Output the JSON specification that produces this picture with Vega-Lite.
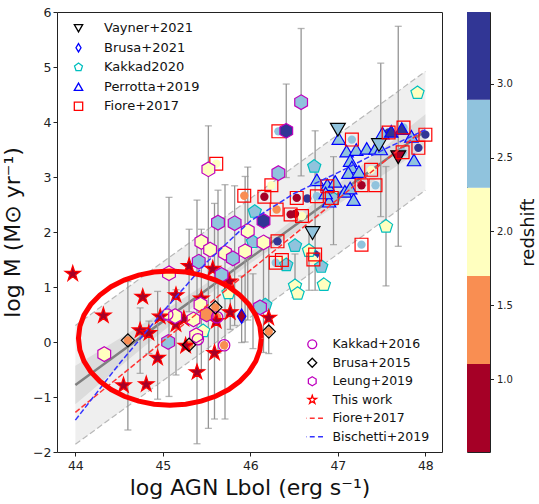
{
  "$schema": "https://vega.github.io/schema/vega-lite/v6.json",
  "padding": {"left": 0, "top": 5, "right": 2, "bottom": 2},
  "background": "white",
  "config": {
    "font": "DejaVu Sans",
    "view": {"stroke": "#222222", "strokeWidth": 1},
    "axis": {"grid": false, "domain": false, "tickColor": "#222222", "tickSize": 4, "labelColor": "#222222", "titleColor": "#111111", "titleFontWeight": "normal", "labelFont": "DejaVu Sans", "titleFont": "DejaVu Sans"},
    "legend": {"labelFont": "DejaVu Sans", "labelColor": "#111111"}
  },
  "datasets": {
    "band": [
      {"L": 44.0, "fit": -0.78, "il": -1.13, "ih": -0.43, "ol": -1.86, "oh": 0.30},
      {"L": 44.5, "fit": -0.20, "il": -0.46, "ih": 0.06, "ol": -1.28, "oh": 0.88},
      {"L": 45.0, "fit": 0.375, "il": 0.195, "ih": 0.555, "ol": -0.705, "oh": 1.455},
      {"L": 45.5, "fit": 0.95, "il": 0.83, "ih": 1.07, "ol": -0.13, "oh": 2.03},
      {"L": 46.0, "fit": 1.53, "il": 1.43, "ih": 1.63, "ol": 0.45, "oh": 2.61},
      {"L": 46.5, "fit": 2.11, "il": 1.98, "ih": 2.24, "ol": 1.03, "oh": 3.19},
      {"L": 47.0, "fit": 2.685, "il": 2.50, "ih": 2.87, "ol": 1.60, "oh": 3.77},
      {"L": 47.5, "fit": 3.26, "il": 3.02, "ih": 3.50, "ol": 2.18, "oh": 4.34},
      {"L": 48.0, "fit": 3.84, "il": 3.54, "ih": 4.14, "ol": 2.76, "oh": 4.92}
    ],
    "rel": [
      {"rel": "Fiore+2017", "L": 44.0, "M": -1.28},
      {"rel": "Fiore+2017", "L": 48.0, "M": 3.89},
      {"rel": "Bischetti+2019", "L": 44.0, "M": -1.42},
      {"rel": "Bischetti+2019", "L": 44.5, "M": -0.40},
      {"rel": "Bischetti+2019", "L": 45.0, "M": 0.55},
      {"rel": "Bischetti+2019", "L": 45.5, "M": 1.45},
      {"rel": "Bischetti+2019", "L": 46.0, "M": 2.20},
      {"rel": "Bischetti+2019", "L": 46.5, "M": 2.70},
      {"rel": "Bischetti+2019", "L": 47.0, "M": 3.08},
      {"rel": "Bischetti+2019", "L": 47.5, "M": 3.48},
      {"rel": "Bischetti+2019", "L": 48.0, "M": 3.86}
    ],
    "ring": [
      {"k": 0, "L": 46.125, "M": 0.07}, {"k": 1, "L": 46.109, "M": 0.282}, {"k": 2, "L": 46.062, "M": 0.487},
      {"k": 3, "L": 45.985, "M": 0.68}, {"k": 4, "L": 45.88, "M": 0.854}, {"k": 5, "L": 45.752, "M": 1.005},
      {"k": 6, "L": 45.603, "M": 1.127}, {"k": 7, "L": 45.437, "M": 1.216}, {"k": 8, "L": 45.261, "M": 1.271},
      {"k": 9, "L": 45.08, "M": 1.29}, {"k": 10, "L": 44.899, "M": 1.271}, {"k": 11, "L": 44.723, "M": 1.216},
      {"k": 12, "L": 44.558, "M": 1.127}, {"k": 13, "L": 44.408, "M": 1.005}, {"k": 14, "L": 44.28, "M": 0.854},
      {"k": 15, "L": 44.175, "M": 0.68}, {"k": 16, "L": 44.098, "M": 0.487}, {"k": 17, "L": 44.051, "M": 0.282},
      {"k": 18, "L": 44.035, "M": 0.07}, {"k": 19, "L": 44.051, "M": -0.142}, {"k": 20, "L": 44.098, "M": -0.347},
      {"k": 21, "L": 44.175, "M": -0.54}, {"k": 22, "L": 44.28, "M": -0.714}, {"k": 23, "L": 44.408, "M": -0.865},
      {"k": 24, "L": 44.558, "M": -0.987}, {"k": 25, "L": 44.723, "M": -1.076}, {"k": 26, "L": 44.899, "M": -1.131},
      {"k": 27, "L": 45.08, "M": -1.15}, {"k": 28, "L": 45.261, "M": -1.131}, {"k": 29, "L": 45.437, "M": -1.076},
      {"k": 30, "L": 45.603, "M": -0.987}, {"k": 31, "L": 45.752, "M": -0.865}, {"k": 32, "L": 45.88, "M": -0.714},
      {"k": 33, "L": 45.985, "M": -0.54}, {"k": 34, "L": 46.062, "M": -0.347}, {"k": 35, "L": 46.109, "M": -0.142},
      {"k": 36, "L": 46.125, "M": 0.07}
    ],
    "cbar": [
      {"z0": 0.508, "z1": 1.104, "zc": 0.8},
      {"z0": 1.104, "z1": 1.699, "zc": 1.4},
      {"z0": 1.699, "z1": 2.296, "zc": 2.0},
      {"z0": 2.296, "z1": 2.892, "zc": 2.6},
      {"z0": 2.892, "z1": 3.485, "zc": 3.2}
    ],
    "pts": [
      {"s": "This work", "L": 43.97, "M": 1.24, "z": 0.8},
      {"s": "This work", "L": 44.32, "M": 0.48, "z": 0.8},
      {"s": "This work", "L": 44.77, "M": 0.82, "z": 0.8},
      {"s": "This work", "L": 44.74, "M": 0.21, "z": 0.8, "lo": -0.57, "hi": 0.62},
      {"s": "This work", "L": 44.84, "M": 0.16, "z": 0.8, "lo": -0.21, "hi": 0.38},
      {"s": "This work", "L": 44.55, "M": -0.79, "z": 0.8},
      {"s": "This work", "L": 44.81, "M": -0.77, "z": 0.8},
      {"s": "This work", "L": 44.94, "M": -0.29, "z": 0.8, "lo": -1.04, "hi": 0.92},
      {"s": "This work", "L": 44.97, "M": 0.46, "z": 0.8},
      {"s": "This work", "L": 45.15, "M": 0.85, "z": 0.8},
      {"s": "This work", "L": 45.15, "M": 0.32, "z": 0.8, "lo": -0.6, "hi": 0.95},
      {"s": "This work", "L": 45.24, "M": 0.42, "z": 0.8},
      {"s": "This work", "L": 45.30, "M": 1.38, "z": 0.8, "lo": 0.55, "hi": 2.05},
      {"s": "This work", "L": 45.26, "M": -0.07, "z": 0.8},
      {"s": "This work", "L": 45.39, "M": -0.55, "z": 0.8, "lo": -1.85, "hi": 2.58},
      {"s": "This work", "L": 45.44, "M": 0.79, "z": 0.8},
      {"s": "This work", "L": 45.57, "M": 1.33, "z": 0.8},
      {"s": "This work", "L": 45.59, "M": -0.20, "z": 0.8, "lo": -1.40, "hi": 2.52},
      {"s": "This work", "L": 45.61, "M": 0.38, "z": 0.8},
      {"s": "This work", "L": 45.77, "M": 0.54, "z": 0.8, "lo": 0.23, "hi": 1.1},
      {"s": "This work", "L": 45.76, "M": 1.10, "z": 0.8},
      {"s": "This work", "L": 46.21, "M": 0.44, "z": 0.8, "lo": -0.21, "hi": 1.9},
      {"s": "Leung+2019", "L": 45.52, "M": 3.14, "z": 2.0, "lo": -1.57, "hi": 3.93},
      {"s": "Leung+2019", "L": 46.58, "M": 4.36, "z": 2.6, "lo": 3.02, "hi": 5.70},
      {"s": "Leung+2019", "L": 46.41, "M": 3.84, "z": 3.2, "lo": 2.99, "hi": 4.69},
      {"s": "Leung+2019", "L": 46.32, "M": 3.07, "z": 2.6},
      {"s": "Leung+2019", "L": 45.63, "M": 2.17, "z": 2.6, "lo": -0.2, "hi": 2.76},
      {"s": "Leung+2019", "L": 45.82, "M": 2.16, "z": 2.6, "lo": 0.3, "hi": 2.84},
      {"s": "Leung+2019", "L": 45.97, "M": 2.02, "z": 2.0, "lo": 0.4, "hi": 3.18},
      {"s": "Leung+2019", "L": 46.15, "M": 2.20, "z": 3.2},
      {"s": "Leung+2019", "L": 45.44, "M": 1.82, "z": 2.0, "lo": -0.5, "hi": 2.05},
      {"s": "Leung+2019", "L": 45.54, "M": 1.68, "z": 2.0},
      {"s": "Leung+2019", "L": 45.71, "M": 1.62, "z": 2.0, "lo": -1.40, "hi": 2.86},
      {"s": "Leung+2019", "L": 45.80, "M": 1.52, "z": 2.6},
      {"s": "Leung+2019", "L": 45.94, "M": 1.65, "z": 2.0, "lo": 0.0, "hi": 3.01},
      {"s": "Leung+2019", "L": 45.41, "M": 1.46, "z": 2.6},
      {"s": "Leung+2019", "L": 45.67, "M": 1.22, "z": 2.6},
      {"s": "Leung+2019", "L": 46.15, "M": 1.81, "z": 2.0, "lo": -0.19, "hi": 1.85},
      {"s": "Leung+2019", "L": 45.07, "M": 1.25, "z": 2.0, "lo": -0.99, "hi": 2.63},
      {"s": "Leung+2019", "L": 44.33, "M": -0.22, "z": 2.0},
      {"s": "Leung+2019", "L": 45.06, "M": 0.0, "z": 2.6},
      {"s": "Leung+2019", "L": 45.14, "M": 0.47, "z": 2.0},
      {"s": "Leung+2019", "L": 45.35, "M": 0.41, "z": 2.0},
      {"s": "Leung+2019", "L": 45.38, "M": 0.12, "z": 2.0},
      {"s": "Leung+2019", "L": 45.43, "M": 0.68, "z": 2.0},
      {"s": "Leung+2019", "L": 46.11, "M": 0.63, "z": 2.6},
      {"s": "Leung+2019", "L": 45.50, "M": 0.50, "z": 1.4},
      {"s": "Kakkad+2016", "L": 45.70, "M": -0.06, "z": 1.4},
      {"s": "Kakkad+2016", "L": 45.05, "M": 0.50, "z": 2.0},
      {"s": "Kakkad+2016", "L": 45.62, "M": 0.45, "z": 1.4},
      {"s": "Kakkad+2016", "L": 45.40, "M": 0.05, "z": 2.0},
      {"s": "Brusa+2015", "L": 44.60, "M": 0.03, "z": 1.4, "lo": -1.6, "hi": 1.1},
      {"s": "Brusa+2015", "L": 45.30, "M": -0.05, "z": 1.4},
      {"s": "Brusa+2015", "L": 45.60, "M": 0.63, "z": 1.4},
      {"s": "Brusa+2015", "L": 46.21, "M": 0.19, "z": 1.4},
      {"s": "Brusa+2021", "L": 45.90, "M": 0.47, "z": 0.8, "lo": -0.01, "hi": 1.2},
      {"s": "Kakkad2020", "L": 47.91, "M": 4.53, "z": 2.0},
      {"s": "Kakkad2020", "L": 46.73, "M": 3.19, "z": 2.6},
      {"s": "Kakkad2020", "L": 46.05, "M": 2.37, "z": 2.6},
      {"s": "Kakkad2020", "L": 46.03, "M": 1.82, "z": 2.6, "lo": -0.12, "hi": 1.24},
      {"s": "Kakkad2020", "L": 46.41, "M": 1.40, "z": 2.6},
      {"s": "Kakkad2020", "L": 45.75, "M": 0.89, "z": 2.0},
      {"s": "Kakkad2020", "L": 46.51, "M": 1.02, "z": 2.0, "lo": 0.81, "hi": 1.6},
      {"s": "Kakkad2020", "L": 46.54, "M": 0.88, "z": 2.0},
      {"s": "Kakkad2020", "L": 46.51, "M": 1.75, "z": 2.6},
      {"s": "Kakkad2020", "L": 46.67, "M": 1.66, "z": 2.0, "lo": 0.94, "hi": 2.1},
      {"s": "Kakkad2020", "L": 46.81, "M": 1.37, "z": 2.6},
      {"s": "Kakkad2020", "L": 46.84, "M": 1.04, "z": 2.0},
      {"s": "Kakkad2020", "L": 47.55, "M": 2.10, "z": 2.0, "lo": 1.02, "hi": 3.19},
      {"s": "Kakkad2020", "L": 46.95, "M": 2.60, "z": 2.6, "lo": 1.77, "hi": 3.37},
      {"s": "Kakkad2020", "L": 45.46, "M": 0.20, "z": 2.0},
      {"s": "Kakkad2020", "L": 46.17, "M": 0.67, "z": 2.6},
      {"s": "Perrotta+2019", "L": 47.01, "M": 3.70, "z": 2.6},
      {"s": "Perrotta+2019", "L": 47.10, "M": 3.47, "z": 2.6},
      {"s": "Perrotta+2019", "L": 47.21, "M": 3.50, "z": 2.6},
      {"s": "Perrotta+2019", "L": 47.33, "M": 3.52, "z": 2.6},
      {"s": "Perrotta+2019", "L": 47.43, "M": 3.52, "z": 2.6},
      {"s": "Perrotta+2019", "L": 47.49, "M": 3.51, "z": 2.6, "lo": 2.28, "hi": 5.07},
      {"s": "Perrotta+2019", "L": 47.14, "M": 3.30, "z": 2.6},
      {"s": "Perrotta+2019", "L": 47.16, "M": 3.18, "z": 2.6},
      {"s": "Perrotta+2019", "L": 47.12, "M": 3.08, "z": 2.6},
      {"s": "Perrotta+2019", "L": 47.24, "M": 3.10, "z": 2.6},
      {"s": "Perrotta+2019", "L": 47.51, "M": 3.80, "z": 2.6},
      {"s": "Perrotta+2019", "L": 47.61, "M": 3.83, "z": 3.2},
      {"s": "Perrotta+2019", "L": 47.73, "M": 3.88, "z": 3.2},
      {"s": "Perrotta+2019", "L": 47.84, "M": 3.74, "z": 2.6},
      {"s": "Perrotta+2019", "L": 47.87, "M": 3.31, "z": 2.6},
      {"s": "Perrotta+2019", "L": 46.76, "M": 2.95, "z": 2.6},
      {"s": "Perrotta+2019", "L": 46.88, "M": 2.86, "z": 2.6},
      {"s": "Perrotta+2019", "L": 46.97, "M": 2.92, "z": 2.6},
      {"s": "Perrotta+2019", "L": 46.90, "M": 2.56, "z": 2.6},
      {"s": "Perrotta+2019", "L": 46.86, "M": 2.71, "z": 2.6},
      {"s": "Perrotta+2019", "L": 47.08, "M": 2.74, "z": 2.6},
      {"s": "Perrotta+2019", "L": 47.18, "M": 2.59, "z": 2.6},
      {"s": "Perrotta+2019", "L": 47.14, "M": 2.80, "z": 2.6},
      {"s": "Vayner+2021", "L": 47.00, "M": 3.86, "z": 2.6},
      {"s": "Vayner+2021", "L": 47.47, "M": 3.58, "z": 2.6},
      {"s": "Vayner+2021", "L": 47.69, "M": 3.36, "z": 0.8, "lo": 1.74, "hi": 5.74},
      {"s": "Vayner+2021", "L": 46.71, "M": 1.98, "z": 2.6},
      {"s": "Fiore+2017", "L": 46.32, "M": 3.83, "z": 2.6},
      {"s": "Fiore+2017", "L": 47.16, "M": 3.68, "z": 2.6},
      {"s": "Fiore+2017", "L": 47.58, "M": 3.81, "z": 3.2},
      {"s": "Fiore+2017", "L": 47.75, "M": 3.90, "z": 2.6},
      {"s": "Fiore+2017", "L": 48.00, "M": 3.77, "z": 3.2},
      {"s": "Fiore+2017", "L": 47.92, "M": 3.53, "z": 3.2},
      {"s": "Fiore+2017", "L": 47.74, "M": 3.45, "z": 2.6},
      {"s": "Fiore+2017", "L": 47.27, "M": 2.85, "z": 0.8},
      {"s": "Fiore+2017", "L": 47.43, "M": 2.85, "z": 2.6},
      {"s": "Fiore+2017", "L": 47.38, "M": 3.13, "z": 2.0},
      {"s": "Fiore+2017", "L": 47.27, "M": 1.77, "z": 2.6},
      {"s": "Fiore+2017", "L": 45.93, "M": 2.66, "z": 1.4},
      {"s": "Fiore+2017", "L": 46.16, "M": 2.64, "z": 0.8},
      {"s": "Fiore+2017", "L": 46.24, "M": 2.85, "z": 2.0},
      {"s": "Fiore+2017", "L": 45.61, "M": 3.24, "z": 2.0},
      {"s": "Fiore+2017", "L": 46.31, "M": 1.83, "z": 3.2},
      {"s": "Fiore+2017", "L": 46.36, "M": 1.49, "z": 2.0},
      {"s": "Fiore+2017", "L": 46.29, "M": 1.44, "z": 2.6},
      {"s": "Fiore+2017", "L": 46.74, "M": 1.59, "z": 3.2, "lo": 0.94, "hi": 3.84},
      {"s": "Fiore+2017", "L": 46.72, "M": 1.50, "z": 2.0},
      {"s": "Fiore+2017", "L": 46.53, "M": 2.62, "z": 0.8},
      {"s": "Fiore+2017", "L": 46.46, "M": 2.32, "z": 0.8},
      {"s": "Fiore+2017", "L": 46.59, "M": 2.29, "z": 2.0},
      {"s": "Fiore+2017", "L": 46.88, "M": 2.83, "z": 0.8},
      {"s": "Fiore+2017", "L": 46.93, "M": 2.62, "z": 0.8},
      {"s": "Fiore+2017", "L": 46.76, "M": 2.65, "z": 2.6},
      {"s": "Fiore+2017", "L": 46.30, "M": 2.41, "z": 1.4},
      {"s": "none", "L": 46.65, "M": 2.61, "z": 3.2},
      {"s": "none", "L": 46.51, "M": 2.33, "z": 0.8}
    ]
  },
  "spacing": 23,
  "resolve": {
    "scale": {"shape": "independent", "stroke": "independent", "size": "independent", "fill": "independent"},
    "legend": {"shape": "independent", "stroke": "independent", "size": "independent", "fill": "independent"}
  },
  "hconcat": [
    {
      "width": 385,
      "height": 440,
      "encoding": {
        "x": {"field": "L", "type": "quantitative", "scale": {"domain": [43.79, 48.19], "nice": false, "zero": false},
          "axis": {"values": [44, 45, 46, 47, 48], "format": "d", "title": "log AGN Lbol (erg s⁻¹)", "labelFontSize": 12.5, "titleFontSize": 22, "titlePadding": 6, "labelPadding": 3}},
        "y": {"field": "M", "type": "quantitative", "scale": {"domain": [-2, 6], "nice": false, "zero": false},
          "axis": {"values": [-2, -1, 0, 1, 2, 3, 4, 5, 6], "format": "d", "title": "log M (M⊙ yr⁻¹)", "labelFontSize": 12.5, "titleFontSize": 22, "titlePadding": 8.5, "labelPadding": 2}}
      },
      "resolve": {
        "scale": {"shape": "independent", "stroke": "independent", "size": "independent"},
        "legend": {"shape": "independent", "stroke": "independent"}
      },
      "layer": [
        {
          "data": {"name": "band"},
          "mark": {"type": "area", "color": "#efefef"},
          "encoding": {
            "y": {"field": "ol", "type": "quantitative", "title": "log M (M⊙ yr⁻¹)"},
            "y2": {"field": "oh"}
          }
        },
        {
          "data": {"name": "band"},
          "mark": {"type": "area", "color": "#dcdcdc"},
          "encoding": {
            "y": {"field": "il", "type": "quantitative", "title": "log M (M⊙ yr⁻¹)"},
            "y2": {"field": "ih"}
          }
        },
        {
          "data": {"name": "band"},
          "mark": {"type": "line", "color": "#b8b8b8", "strokeWidth": 1.2, "strokeDash": [6, 3]},
          "encoding": {"y": {"field": "ol", "type": "quantitative", "title": "log M (M⊙ yr⁻¹)"}}
        },
        {
          "data": {"name": "band"},
          "mark": {"type": "line", "color": "#b8b8b8", "strokeWidth": 1.2, "strokeDash": [6, 3]},
          "encoding": {"y": {"field": "oh", "type": "quantitative", "title": "log M (M⊙ yr⁻¹)"}}
        },
        {
          "data": {"name": "band"},
          "mark": {"type": "line", "color": "#808080", "strokeWidth": 2.5},
          "encoding": {"y": {"field": "fit", "type": "quantitative", "title": "log M (M⊙ yr⁻¹)"}}
        },
        {
          "data": {"name": "pts"},
          "transform": [{"filter": "isValid(datum.lo)"}],
          "mark": {"type": "errorbar", "ticks": {"size": 7}, "color": "#959595", "thickness": 1.3},
          "encoding": {
            "y": {"field": "lo", "type": "quantitative", "title": "log M (M⊙ yr⁻¹)"},
            "y2": {"field": "hi"}
          }
        },
        {
          "data": {"name": "pts"},
          "transform": [{"filter": {"field": "s", "oneOf": ["Fiore+2017", "Brusa+2015", "Kakkad+2016", "none"]}}],
          "mark": {"type": "point", "filled": true, "shape": "circle", "size": 70, "opacity": 1, "strokeWidth": 0},
          "encoding": {
            "fill": {"field": "z", "type": "quantitative", "legend": null,
              "scale": {"type": "threshold", "domain": [1.104, 1.699, 2.296, 2.892], "range": ["#a50026", "#f98e52", "#ffffbf", "#90c3dd", "#313695"]}}
          }
        },
        {
          "data": {"name": "pts"},
          "transform": [{"filter": {"field": "s", "oneOf": ["Vayner+2021", "Brusa+2021", "Kakkad2020", "Perrotta+2019", "Fiore+2017"]}}],
          "mark": {"type": "point", "filled": false, "opacity": 1, "strokeWidth": 1.2},
          "encoding": {
            "fill": {"condition": {"test": "datum.s === 'Fiore+2017'", "value": "transparent"},
              "field": "z", "type": "quantitative", "legend": null,
              "scale": {"type": "threshold", "domain": [1.104, 1.699, 2.296, 2.892], "range": ["#a50026", "#f98e52", "#ffffbf", "#90c3dd", "#313695"]}},
            "shape": {"field": "s", "type": "nominal",
              "scale": {"domain": ["Vayner+2021", "Brusa+2021", "Kakkad2020", "Perrotta+2019", "Fiore+2017"],
                "range": ["triangle-down", "M0,-1L0.6,0L0,1L-0.6,0Z", "M0,-1L0.951,-0.309L0.588,0.809L-0.588,0.809L-0.951,-0.309Z", "triangle-up", "square"]},
              "legend": {"title": null, "orient": "none", "legendX": 15, "legendY": 10, "symbolSize": 70, "symbolStrokeWidth": 1.3, "symbolFillColor": "transparent", "labelFontSize": 13, "labelOffset": 19, "rowPadding": 5.5, "clipHeight": 12.5, "padding": 0}},
            "stroke": {"field": "s", "type": "nominal",
              "scale": {"domain": ["Vayner+2021", "Brusa+2021", "Kakkad2020", "Perrotta+2019", "Fiore+2017"],
                "range": ["#000000", "#0000ff", "#00bfbf", "#0000ff", "#ff0000"]},
              "legend": {"title": null, "orient": "none", "legendX": 15, "legendY": 10, "symbolSize": 70, "symbolStrokeWidth": 1.3, "symbolFillColor": "transparent", "labelFontSize": 13, "labelOffset": 19, "rowPadding": 5.5, "clipHeight": 12.5, "padding": 0}},
            "size": {"field": "s", "type": "nominal", "legend": null,
              "scale": {"domain": ["Fiore+2017", "Perrotta+2019", "Kakkad2020", "Brusa+2021", "Vayner+2021"], "range": [165, 220, 150, 200, 200]}}
          }
        },
        {
          "data": {"name": "pts"},
          "transform": [{"filter": {"field": "s", "oneOf": ["Kakkad+2016", "Brusa+2015", "Leung+2019", "This work"]}}],
          "mark": {"type": "point", "filled": false, "opacity": 1, "strokeWidth": 1.2},
          "encoding": {
            "fill": {"condition": {"test": "datum.s === 'Kakkad+2016' || datum.s === 'Brusa+2015'", "value": "transparent"},
              "field": "z", "type": "quantitative", "legend": null,
              "scale": {"type": "threshold", "domain": [1.104, 1.699, 2.296, 2.892], "range": ["#a50026", "#f98e52", "#ffffbf", "#90c3dd", "#313695"]}},
            "shape": {"field": "s", "type": "nominal",
              "scale": {"domain": ["Kakkad+2016", "Brusa+2015", "Leung+2019", "This work", "Fiore+2017", "Bischetti+2019"],
                "range": ["circle", "diamond", "M0,-1L0.866,-0.5L0.866,0.5L0,1L-0.866,0.5L-0.866,-0.5Z", "M0,-1L0.225,-0.309L0.951,-0.309L0.363,0.118L0.588,0.809L0,0.382L-0.588,0.809L-0.363,0.118L-0.951,-0.309L-0.225,-0.309Z", "M-2.4,0H-1.3M-0.55,0H0.55M1.3,0H2.4", "M-2.4,0H-1.3M-0.55,0H0.55M1.3,0H2.4"]},
              "legend": {"title": null, "orient": "none", "legendX": 249, "legendY": 326, "symbolSize": 80, "symbolStrokeWidth": 1.3, "symbolFillColor": "transparent", "labelFontSize": 12.5, "labelOffset": 14, "rowPadding": 5.5, "clipHeight": 12.5, "padding": 0}},
            "stroke": {"field": "s", "type": "nominal",
              "scale": {"domain": ["Kakkad+2016", "Brusa+2015", "Leung+2019", "This work", "Fiore+2017", "Bischetti+2019"],
                "range": ["#bf00bf", "#000000", "#bf00bf", "#ff0000", "#ff3333", "#3333ff"]},
              "legend": {"title": null, "orient": "none", "legendX": 249, "legendY": 326, "symbolSize": 80, "symbolStrokeWidth": 1.3, "symbolFillColor": "transparent", "labelFontSize": 12.5, "labelOffset": 14, "rowPadding": 5.5, "clipHeight": 12.5, "padding": 0}},
            "size": {"field": "s", "type": "nominal", "legend": null,
              "scale": {"domain": ["This work", "Leung+2019", "Brusa+2015", "Kakkad+2016"], "range": [260, 130, 190, 120]}}
          }
        },
        {
          "data": {"name": "rel"},
          "transform": [{"filter": "datum.rel === 'Fiore+2017'"}],
          "mark": {"type": "line", "color": "#ff3333", "strokeWidth": 1.5, "strokeDash": [5.5, 2.4]},
          "encoding": {}
        },
        {
          "data": {"name": "rel"},
          "transform": [{"filter": "datum.rel === 'Bischetti+2019'"}],
          "mark": {"type": "line", "color": "#3333ff", "strokeWidth": 1.5, "strokeDash": [5.5, 2.4]},
          "encoding": {}
        },
        {
          "data": {"name": "ring"},
          "mark": {"type": "line", "color": "#ff0000", "strokeWidth": 5},
          "encoding": {"order": {"field": "k", "type": "quantitative"}}
        }
      ]
    },
    {
      "width": 23,
      "height": 440,
      "data": {"name": "cbar"},
      "mark": {"type": "rect"},
      "encoding": {
        "y": {"field": "z0", "type": "quantitative", "scale": {"domain": [0.508, 3.485], "nice": false, "zero": false},
          "axis": {"orient": "right", "values": [1, 1.5, 2, 2.5, 3], "format": ".1f", "title": "redshift", "titleFontSize": 18, "titleAngle": 270, "titleBaseline": "top", "titlePadding": 7, "labelFontSize": 10, "tickSize": 3.5, "labelPadding": 3}},
        "y2": {"field": "z1"},
        "fill": {"field": "zc", "type": "quantitative", "legend": null,
          "scale": {"type": "threshold", "domain": [1.104, 1.699, 2.296, 2.892], "range": ["#a50026", "#f98e52", "#ffffbf", "#90c3dd", "#313695"]}}
      }
    }
  ]
}
